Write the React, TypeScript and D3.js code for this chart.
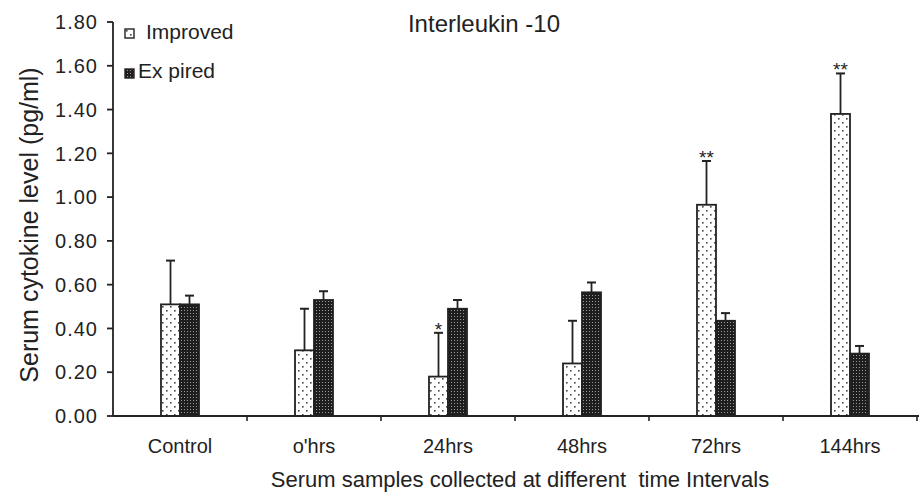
import React from "react";
import * as d3 from "d3";

const categories = ["Control", "o'hrs", "24hrs", "48hrs", "72hrs", "144hrs"];
const series = ["Improved", "Expired"];
const improved = [0.51, 0.30, 0.18, 0.24, 0.965, 1.38];
const improvedErr = [0.20, 0.19, 0.20, 0.195, 0.20, 0.185];
const expired = [0.51, 0.53, 0.49, 0.565, 0.435, 0.285];
const expiredErr = [0.04, 0.04, 0.04, 0.045, 0.035, 0.035];
const stars = ["", "", "*", "", "**", "**"];
const yTicks = [0, 0.2, 0.4, 0.6, 0.8, 1.0, 1.2, 1.4, 1.6, 1.8];

const W = 920, H = 496;
const left = 113, right = 917, top = 22, bottom = 416;
const font = "'Liberation Sans', Arial, sans-serif";

export default function App() {
  const x = d3.scaleBand<string>().domain(categories).range([left, right]);
  const y = d3.scaleLinear().domain([0, 1.8]).range([bottom, top]);
  const barW = 19;
  const fmt = d3.format(".2f");
  const vals = [improved, expired];
  const errs = [improvedErr, expiredErr];
  const fills = ["url(#dots)", "url(#dense)"];

  return (
    <svg width={W} height={H} style={{ position: "absolute", left: 0, top: 0, background: "#fff" }} fontFamily={font}>
      <defs>
        <pattern id="dots" width={8} height={8} patternUnits="userSpaceOnUse">
          <rect width={8} height={8} fill="#fff" />
          <rect x={2} y={2} width={1.6} height={1.6} fill="#444" />
          <rect x={6} y={6} width={1.6} height={1.6} fill="#444" />
        </pattern>
        <pattern id="dense" width={3} height={3} patternUnits="userSpaceOnUse">
          <rect width={3} height={3} fill="#1e1e1e" />
          <rect x={1} y={1} width={1} height={1} fill="#9a9a9a" />
        </pattern>
      </defs>

      {/* bars */}
      {categories.map((c, i) => {
        const cx = (x(c) as number) + x.bandwidth() / 2;
        return (
          <g key={c}>
            {series.map((s, j) => {
              const bx = cx - barW + j * barW;
              const v = vals[j][i];
              const e = errs[j][i];
              const mid = bx + barW / 2;
              return (
                <g key={s}>
                  <rect x={bx} y={y(v)} width={barW} height={bottom - y(v)} fill={fills[j]} stroke="#222" strokeWidth={1.8} />
                  <line x1={mid} x2={mid} y1={y(v)} y2={y(v + e)} stroke="#222" strokeWidth={1.8} />
                  <line x1={mid - 4.5} x2={mid + 4.5} y1={y(v + e)} y2={y(v + e)} stroke="#222" strokeWidth={2} />
                </g>
              );
            })}
            {stars[i] && (
              <text x={cx - barW / 2} y={y(improved[i] + improvedErr[i]) + 3} textAnchor="middle" fontSize={19} fill="#222">
                {stars[i]}
              </text>
            )}
          </g>
        );
      })}

      {/* y axis */}
      <line x1={left} x2={left} y1={top} y2={bottom} stroke="#222" strokeWidth={1.8} />
      {yTicks.map((t) => (
        <g key={t}>
          <line x1={left - 6} x2={left} y1={y(t)} y2={y(t)} stroke="#222" strokeWidth={1.8} />
          <text x={left - 15} y={y(t)} dy="0.36em" textAnchor="end" fontSize={20} letterSpacing={1} fill="#222">
            {fmt(t)}
          </text>
        </g>
      ))}

      {/* x axis */}
      <line x1={left} x2={right + 2} y1={bottom} y2={bottom} stroke="#222" strokeWidth={1.8} />
      {categories.map((c) => (
        <line key={c + "t"} x1={(x(c) as number) + x.bandwidth()} x2={(x(c) as number) + x.bandwidth()} y1={bottom} y2={bottom + 5} stroke="#222" strokeWidth={1.6} />
      ))}
      {categories.map((c) => (
        <text key={c + "l"} x={(x(c) as number) + x.bandwidth() / 2} y={453} textAnchor="middle" fontSize={20} fill="#222">
          {c}
        </text>
      ))}

      {/* titles */}
      <text x={484} y={32} textAnchor="middle" fontSize={24} fill="#222">Interleukin -10</text>
      <text x={520} y={487} textAnchor="middle" fontSize={22} fill="#222" style={{ whiteSpace: "pre" }}>
        {"Serum samples collected at different  time Intervals"}
      </text>
      <text transform="translate(38,225) rotate(-90)" textAnchor="middle" fontSize={25} fill="#222">
        Serum cytokine level (pg/ml)
      </text>

      {/* legend */}
      <g>
        <rect x={125} y={29} width={9} height={9} fill="url(#dots)" stroke="#222" strokeWidth={1.4} />
        <text x={146} y={39} fontSize={21} fill="#222">Improved</text>
        <rect x={125} y={69} width={9} height={9} fill="url(#dense)" stroke="#222" strokeWidth={1.4} />
        <text x={138} y={78} fontSize={21} fill="#222" style={{ whiteSpace: "pre" }}>{"Ex pired"}</text>
      </g>
    </svg>
  );
}
